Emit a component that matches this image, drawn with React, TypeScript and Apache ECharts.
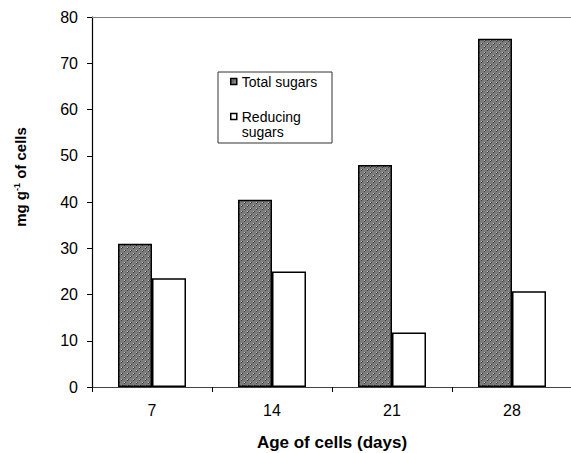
import React, { useEffect, useRef } from "react";
import * as echarts from "echarts";

const categories = ["7", "14", "21", "28"];
const totalSugars = [31, 40.5, 48, 75.3];
const reducingSugars = [23.5, 25, 11.8, 20.7];
const seriesNames = ["Total sugars", "Reducing sugars"];
const yTitle = ["mg g", "-1", " of cells"];
const xTitle = "Age of cells (days)";

function makePattern(): HTMLCanvasElement {
  const c = document.createElement("canvas");
  c.width = 6;
  c.height = 6;
  const ctx = c.getContext("2d")!;
  ctx.fillStyle = "#7c7c7c";
  ctx.fillRect(0, 0, 6, 6);
  ctx.fillStyle = "#c8c8c8";
  ctx.fillRect(1, 1, 1, 1);
  ctx.fillRect(4, 4, 1, 1);
  ctx.fillStyle = "#3a3a3a";
  ctx.fillRect(2, 1, 1, 1);
  ctx.fillRect(1, 2, 1, 1);
  ctx.fillRect(5, 4, 1, 1);
  ctx.fillRect(4, 5, 1, 1);
  return c;
}

export default function App() {
  const ref = useRef<HTMLDivElement>(null);
  useEffect(() => {
    const chart = echarts.init(ref.current!, null, { renderer: "svg" });
    const font = "'Liberation Sans', Arial, sans-serif";
    chart.setOption({
      animation: false,
      textStyle: { fontFamily: font },
      grid: { left: 92, top: 17, width: 480, height: 370, containLabel: false, outerBoundsMode: "none" },
      legend: {
        left: 230,
        top: 74,
        orient: "vertical",
        padding: 0,
        itemWidth: 6,
        itemHeight: 6,
        itemGap: 5,
        icon: "rect",
        itemStyle: { borderColor: "#000", borderWidth: 1.5 },
        textStyle: { fontFamily: font, fontSize: 14, color: "#000", lineHeight: 15 },
        formatter: (n: string) => (n === "Reducing sugars" ? " \nReducing\nsugars" : n),
        data: seriesNames,
      },
      graphic: [
        {
          type: "rect",
          shape: { x: 218, y: 72, width: 114, height: 71 },
          style: { fill: "none", stroke: "#333", lineWidth: 1 },
          z: 1,
        },
        {
          type: "text",
          x: 20,
          y: 177,
          rotation: Math.PI / 2,
          style: {
            text: `{b|${yTitle[0]}}{s|${yTitle[1]}}{b|${yTitle[2]}}`,
            align: "center",
            verticalAlign: "middle",
            rich: {
              b: { fontSize: 15, fontWeight: "bold", fill: "#000", fontFamily: font },
              s: { fontSize: 9, fontWeight: "bold", fill: "#000", fontFamily: font, verticalAlign: "top", padding: [0, 0, 7, 0] },
            },
          },
        },
      ],
      xAxis: [
        {
          type: "category",
          data: categories,
          position: "bottom",
          axisLine: { lineStyle: { color: "#444", width: 1.2 } },
          axisTick: { show: true, length: 5, lineStyle: { color: "#000" } },
          axisLabel: { color: "#000", fontSize: 16, margin: 15, fontFamily: font },
          name: xTitle,
          nameLocation: "middle",
          nameGap: 46,
          nameTextStyle: { fontSize: 17, fontWeight: "bold", color: "#000", fontFamily: font, lineHeight: 18 },
        },
        {
          type: "category",
          data: categories,
          position: "top",
          axisLine: { lineStyle: { color: "#808080", width: 1 } },
          axisTick: { show: false },
          axisLabel: { show: false },
        },
      ],
      yAxis: {
        type: "value",
        min: 0,
        max: 80,
        interval: 10,
        axisLine: { show: true, lineStyle: { color: "#000", width: 1.2 } },
        axisTick: { show: true, length: 5, lineStyle: { color: "#000" } },
        splitLine: { show: false },
        axisLabel: { color: "#000", fontSize: 16, margin: 14, fontFamily: font },
      },
      series: [
        {
          name: seriesNames[0],
          type: "bar",
          data: totalSugars,
          barWidth: 34,
          barGap: "0%",
          itemStyle: {
            color: { image: makePattern(), repeat: "repeat" },
            borderColor: "#000",
            borderWidth: 1.5,
          },
        },
        {
          name: seriesNames[1],
          type: "bar",
          data: reducingSugars,
          barWidth: 34,
          barGap: "0%",
          itemStyle: { color: "#fff", borderColor: "#000", borderWidth: 1.5 },
        },
      ],
    });
    return () => chart.dispose();
  }, []);
  return (
    <div
      ref={ref}
      style={{ position: "fixed", left: 0, top: 0, width: 571, height: 453, background: "#fff" }}
    />
  );
}
